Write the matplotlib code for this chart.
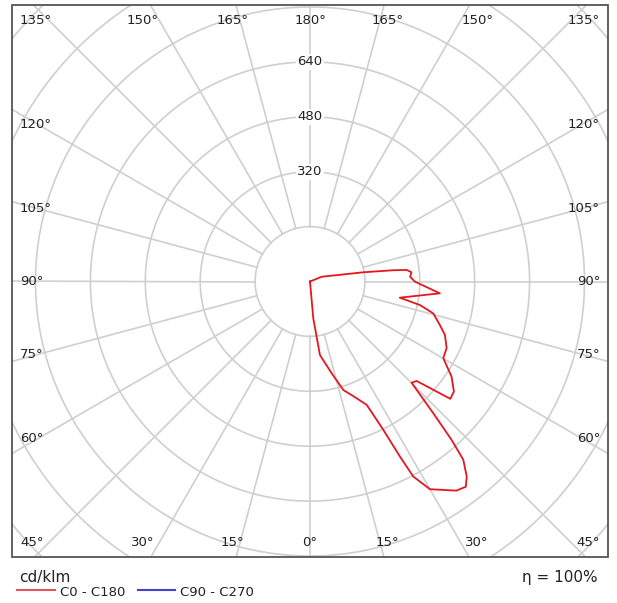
import numpy as np
import matplotlib
matplotlib.use("Agg")
import matplotlib.pyplot as plt
from matplotlib.patches import Rectangle

# ---- data ----
c0_angles = [0, 5.1, 7.7, 13.3, 17.1, 20.7, 24.7, 26.3, 27.2, 27.9, 30.0, 35.0, 37.2,
             38.8, 40.7, 41.8, 43.1, 45.1, 47.0, 50.1, 52.6, 56.1, 59.2, 60.1, 64.0,
             68.4, 71.5, 75.5, 77.9, 79.8, 84.8, 89.9, 92.7, 95.2, 96.8, 97.7, 99.8,
             112.0, 180.0]
c0_values = [0, 108, 216, 275, 331, 357, 396, 482, 574, 643, 699, 744, 751,
             729, 685, 619, 526, 418, 425, 533, 528, 497, 458, 448, 443,
             423, 399, 371, 328, 266, 380, 306, 292, 297, 284, 245, 158,
             37, 0]
c90_angles = [-180, 0, 180]
c90_values = [0, 0, 0]

ring_values = [160, 320, 480, 640, 800, 960, 1120]
ring_labels = [320, 480, 640]
spoke_angles = list(range(0, 360, 15))
unit_label = "cd/klm"
eff_label = "η = 100%"
legend_labels = ["C0 - C180", "C90 - C270"]

# ---- layout ----
W, H = 617, 603
cx, cy = 310.0, 281.5            # pixel centre (from top)
px_per_unit = 54.9 / 160.0
rmax = 1200
R = rmax * px_per_unit
bx0, bx1, by0, by1 = 12, 608, 5, 557   # frame in pixels (from top)

grid_c = "#cfcfcf"
red = "#e3171f"
blue = "#3f3fd0"

fig = plt.figure(figsize=(W / 100, H / 100), dpi=100)
fig.patch.set_facecolor("white")

ax = fig.add_axes([(cx - R) / W, (H - cy - R) / H, 2 * R / W, 2 * R / H],
                  projection="polar")
ax.set_theta_zero_location("S")
ax.set_theta_direction(1)
ax.set_rlim(0, rmax)
ax.set_xticks([])
ax.set_yticks([])
ax.grid(False)
ax.spines["polar"].set_visible(False)
ax.patch.set_visible(False)

clip = Rectangle((bx0 / W, (H - by1) / H), (bx1 - bx0) / W, (by1 - by0) / H,
                 transform=fig.transFigure, fill=False)

tt = np.linspace(0, 2 * np.pi, 721)
for r in ring_values:
    ln, = ax.plot(tt, np.full_like(tt, r), color=grid_c, lw=1.2, zorder=1)
    ln.set_clip_path(clip)
for a in spoke_angles:
    t = np.radians(a)
    ln, = ax.plot([t, t], [ring_values[0], rmax], color=grid_c, lw=1.2, zorder=1)
    ln.set_clip_path(clip)

for r in ring_labels:
    ax.text(np.pi, r, str(r), ha="center", va="center", fontsize=9.5,
            color="#222222", zorder=3,
            bbox=dict(boxstyle="square,pad=0.12", fc="white", ec="none"))

ln, = ax.plot(np.radians(c90_angles), c90_values, color=blue, lw=1.3, zorder=4)
ln, = ax.plot(np.radians(c0_angles), c0_values, color=red, lw=1.3, zorder=5)
ln.set_clip_path(clip)

fig.add_artist(Rectangle((bx0 / W, (H - by1) / H), (bx1 - bx0) / W, (by1 - by0) / H,
                         transform=fig.transFigure, fill=False, ec="#555555", lw=1.3,
                         zorder=10))

# ---- angle labels ----
def ftext(x, y, s, **kw):
    fig.text(x / W, 1 - y / H, s, fontsize=9.5, color="#222222", **kw)

top_y, bot_y = 20, 542
left_x, right_x = 20, 600
for a in [15, 30]:
    dxt = (cy - by0) * np.tan(np.radians(a)) * 1.05
    dxb = (by1 - cy) * np.tan(np.radians(a)) * 1.05
    ftext(cx - dxt, top_y, f"{180 - a}°", ha="center", va="center")
    ftext(cx + dxt, top_y, f"{180 - a}°", ha="center", va="center")
    ftext(cx - dxb, bot_y, f"{a}°", ha="center", va="center")
    ftext(cx + dxb, bot_y, f"{a}°", ha="center", va="center")
ftext(cx, top_y, "180°", ha="center", va="center")
ftext(cx, bot_y, "0°", ha="center", va="center")
ftext(left_x, top_y, "135°", ha="left", va="center")
ftext(right_x, top_y, "135°", ha="right", va="center")
ftext(left_x, bot_y, "45°", ha="left", va="center")
ftext(right_x, bot_y, "45°", ha="right", va="center")
for a in [60, 75, 90, 105, 120]:
    y = cy + (cx - 38) * np.tan(np.radians(90 - a))
    ftext(left_x, y, f"{a}°", ha="left", va="center")
    ftext(right_x, y, f"{a}°", ha="right", va="center")

# ---- bottom texts / legend ----
fig.text(19 / W, 1 - 582 / H, unit_label, fontsize=11, color="#222222",
         ha="left", va="baseline")
fig.text(598 / W, 1 - 582 / H, eff_label, fontsize=11, color="#222222",
         ha="right", va="baseline")
fig.add_artist(plt.Line2D([17 / W, 55 / W], [1 - 590 / H, 1 - 590 / H],
                          color="#e05555", lw=1.5, transform=fig.transFigure))
fig.text(60 / W, 1 - 592 / H, legend_labels[0], fontsize=9.5, color="#222222",
         ha="left", va="center")
fig.add_artist(plt.Line2D([138 / W, 175 / W], [1 - 590 / H, 1 - 590 / H],
                          color="#4444c8", lw=1.5, transform=fig.transFigure))
fig.text(180 / W, 1 - 592 / H, legend_labels[1], fontsize=9.5, color="#222222",
         ha="left", va="center")

fig.savefig("out.png", dpi=100)
